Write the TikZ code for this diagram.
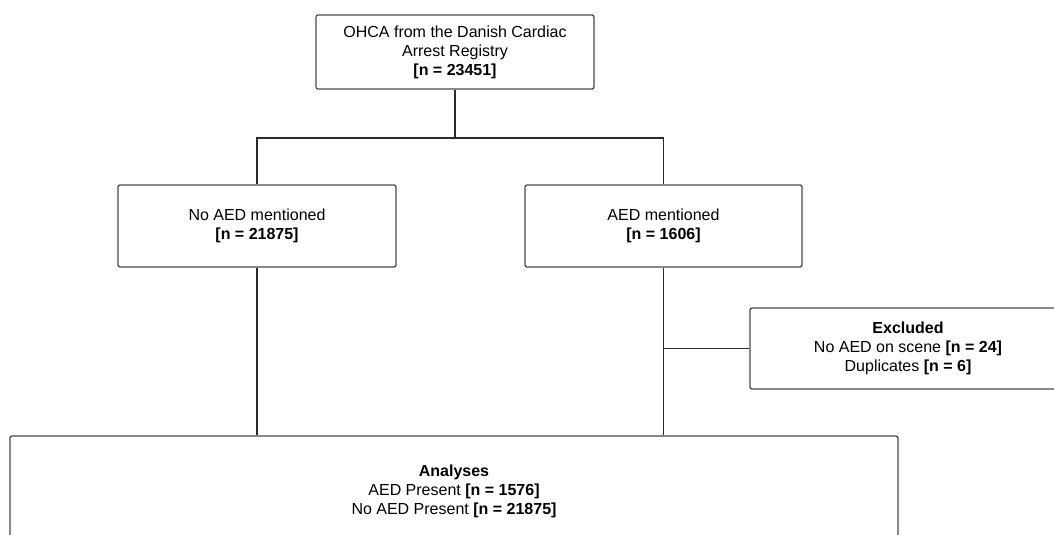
\documentclass[tikz,border=0pt]{standalone}
\usepackage{fontspec}
\setmainfont{Liberation Sans}
\usepackage{xcolor}
\usepackage{tikz}
\usetikzlibrary{positioning, calc}
\definecolor{boxline}{HTML}{4A4A4A}
\definecolor{linkline}{HTML}{2B2B2B}

\begin{document}
\begin{tikzpicture}[x=1pt, y=-1pt, font=\fontsize{16}{19}\selectfont,
  b/.style={rectangle, rounded corners=2pt, draw=boxline, line width=1.3pt, fill=white,
            align=center, inner sep=0pt},
  l/.style={line width=1.5pt, linkline}]
\useasboundingbox (0,0) rectangle (1054,535);
\clip (0,0) rectangle (1054,535);
\node[b, minimum width=278pt, minimum height=74pt] (reg) at (455,52)
  {OHCA from the Danish Cardiac\\Arrest Registry\\\textbf{[n = 23451]}};
\node[b, minimum width=278pt, minimum height=82pt] (noaed) at (257,226)
  {No AED mentioned\\\textbf{[n = 21875]}};
\node[b, minimum width=277pt, minimum height=82pt] (aed) at (663.5,226)
  {AED mentioned\\\textbf{[n = 1606]}};
\node[b, minimum width=316pt, minimum height=81pt] (excl) at (908,348.5)
  {\textbf{Excluded}\\No AED on scene \textbf{[n = 24]}\\Duplicates \textbf{[n = 6]}};
\node[b, minimum width=888pt, minimum height=110pt] (ana) at (454,491)
  {\textbf{Analyses}\\AED Present \textbf{[n = 1576]}\\No AED Present \textbf{[n = 21875]}};
\coordinate (split) at (455,138);
\draw[l] (reg) -- (split);
\draw[l] (noaed.north) |- (split) -| (aed.north);
\draw[l] (noaed.south) -- (noaed.south |- ana.north);
\draw[l] (aed.south) -- (aed.south |- ana.north);
\draw[l] (excl.west) -- (excl.west -| aed.south);
\end{tikzpicture}
\end{document}
